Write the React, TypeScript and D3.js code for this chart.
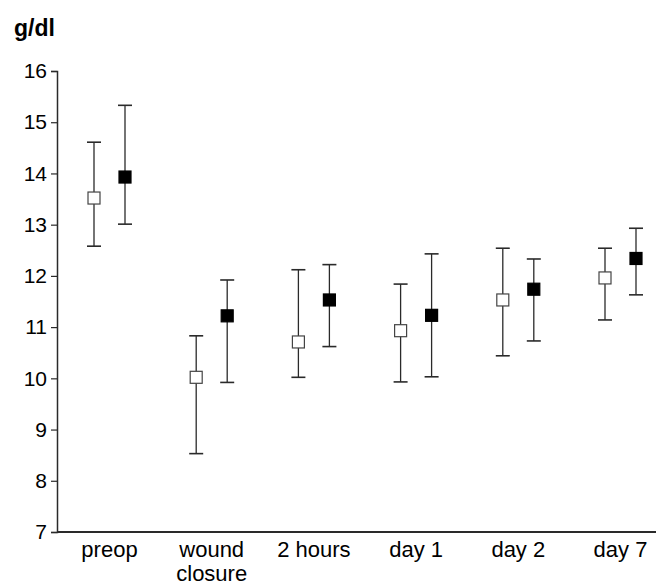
import React, { useEffect, useRef } from "react";
import * as d3 from "d3";

const categories = ["preop", "wound closure", "2 hours", "day 1", "day 2", "day 7"];
const yTicks = [7, 8, 9, 10, 11, 12, 13, 14, 15, 16];

// open squares
const openMean = [13.52, 10.02, 10.71, 10.93, 11.53, 11.96];
const openLow = [12.58, 8.53, 10.02, 9.93, 10.44, 11.14];
const openHigh = [14.61, 10.83, 12.12, 11.84, 12.54, 12.54];

// filled squares
const filledMean = [13.93, 11.22, 11.53, 11.23, 11.74, 12.34];
const filledLow = [13.01, 9.92, 10.62, 10.03, 10.73, 11.63];
const filledHigh = [15.33, 11.92, 12.22, 12.43, 12.33, 12.93];

const App = () => {
  const svgRef = useRef<SVGSVGElement>(null);

  useEffect(() => {
    const w = 660;
    const h = 585;
    const left = 57;
    const right = 656;
    const top = 71;
    const bottom = 532;
    const font = "'Liberation Sans', Arial, Helvetica, sans-serif";
    const ink = "#2a2a2a";

    const svg = d3.select(svgRef.current).attr("width", w).attr("height", h);
    svg.selectAll("*").remove();

    const y = d3.scaleLinear().domain([7, 16]).range([bottom, top]);
    const x = d3.scalePoint().domain(categories).range([109.5, 620.5]);
    const offset = 15.5;

    // y axis
    const yAxis = svg
      .append("g")
      .attr("transform", `translate(${left},0)`)
      .attr("font-size", 21)
      .attr("font-family", font)
      .call(d3.axisLeft(y).tickValues(yTicks).tickSize(6).tickPadding(4).tickFormat(d3.format("d")));
    yAxis.attr("font-size", 21).attr("font-family", font);
    yAxis.select(".domain").attr("stroke", ink).attr("stroke-width", 1.5);
    yAxis.selectAll(".tick line").attr("stroke", ink).attr("stroke-width", 1.2);
    yAxis.selectAll(".tick text").attr("fill", "#000");

    // x axis line
    svg
      .append("line")
      .attr("x1", left)
      .attr("x2", right)
      .attr("y1", bottom)
      .attr("y2", bottom)
      .attr("stroke", ink)
      .attr("stroke-width", 2);

    // unit label
    svg
      .append("text")
      .attr("x", 14)
      .attr("y", 36)
      .text("g/dl")
      .style("font-family", font)
      .style("font-size", "23px")
      .style("font-weight", "bold");

    // category labels
    const labels = svg
      .selectAll("text.cat")
      .data(categories)
      .join("text")
      .attr("class", "cat")
      .attr("text-anchor", "middle")
      .attr("transform", (d) => `translate(${x(d)},557)`)
      .style("font-family", font)
      .style("font-size", "22px");
    labels
      .selectAll("tspan")
      .data((d) => (d === "wound closure" ? d.split(" ") : [d]))
      .join("tspan")
      .attr("x", 0)
      .attr("dy", (_, i) => (i === 0 ? 0 : 24))
      .text((d) => d);

    const series = [
      { mean: openMean, low: openLow, high: openHigh, dx: -offset, fill: "#fff" },
      { mean: filledMean, low: filledLow, high: filledHigh, dx: offset, fill: "#000" },
    ];
    const cap = 7;
    const size = 12;

    series.forEach((s) => {
      const g = svg.append("g");
      const items = categories.map((c, i) => ({
        cx: (x(c) as number) + s.dx,
        m: s.mean[i],
        lo: s.low[i],
        hi: s.high[i],
      }));
      g.selectAll("line.bar")
        .data(items)
        .join("line")
        .attr("x1", (d) => d.cx)
        .attr("x2", (d) => d.cx)
        .attr("y1", (d) => y(d.lo))
        .attr("y2", (d) => y(d.hi))
        .attr("stroke", ink)
        .attr("stroke-width", 1.3);
      g.selectAll("line.capHi")
        .data(items)
        .join("line")
        .attr("x1", (d) => d.cx - cap)
        .attr("x2", (d) => d.cx + cap)
        .attr("y1", (d) => y(d.hi))
        .attr("y2", (d) => y(d.hi))
        .attr("stroke", ink)
        .attr("stroke-width", 1.6);
      g.selectAll("line.capLo")
        .data(items)
        .join("line")
        .attr("x1", (d) => d.cx - cap)
        .attr("x2", (d) => d.cx + cap)
        .attr("y1", (d) => y(d.lo))
        .attr("y2", (d) => y(d.lo))
        .attr("stroke", ink)
        .attr("stroke-width", 1.6);
      g.selectAll("rect")
        .data(items)
        .join("rect")
        .attr("x", (d) => d.cx - size / 2)
        .attr("y", (d) => y(d.m) - size / 2)
        .attr("width", size)
        .attr("height", size)
        .attr("fill", s.fill)
        .attr("stroke", s.fill === "#000" ? "#000" : "#444")
        .attr("stroke-width", 1.2);
    });
  }, []);

  return (
    <div style={{ position: "absolute", left: 0, top: 0 }}>
      <svg ref={svgRef} style={{ display: "block", background: "#fff" }}></svg>
    </div>
  );
};

export default App;
